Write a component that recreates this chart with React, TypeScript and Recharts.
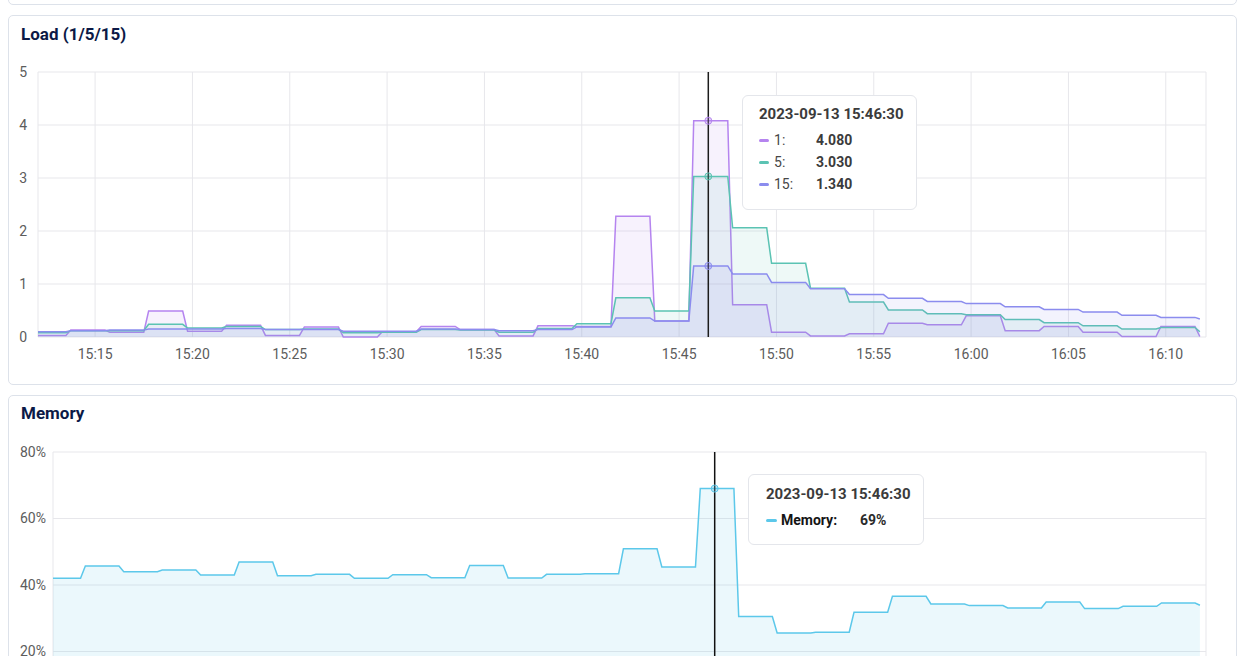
import { ComposedChart, Area, XAxis, YAxis, CartesianGrid, Tooltip } from 'recharts';

// 2-minute reporting windows; each value holds from segStart to segEnd
const day = '2023-09-13';
const segStart = [
  '15:12:04', '15:13:45', '15:15:45', '15:17:45', '15:19:45', '15:21:45', '15:23:45', '15:25:45',
  '15:27:45', '15:29:45', '15:31:45', '15:33:45', '15:35:45', '15:37:45', '15:39:45', '15:41:45',
  '15:43:45', '15:45:45', '15:47:45', '15:49:45', '15:51:45', '15:53:45', '15:55:45', '15:57:45',
  '15:59:45', '16:01:45', '16:03:45', '16:05:45', '16:07:45', '16:09:45', '16:11:45',
];
const segEnd = [
  '15:13:30', '15:15:30', '15:17:30', '15:19:30', '15:21:30', '15:23:30', '15:25:30', '15:27:30',
  '15:29:30', '15:31:30', '15:33:30', '15:35:30', '15:37:30', '15:39:30', '15:41:30', '15:43:30',
  '15:45:30', '15:47:30', '15:49:30', '15:51:30', '15:53:30', '15:55:30', '15:57:30', '15:59:30',
  '16:01:30', '16:03:30', '16:05:30', '16:07:30', '16:09:30', '16:11:30', '16:11:45',
];
const load1 = [
  0.03, 0.13, 0.09, 0.49, 0.11, 0.22, 0.03, 0.19, 0.0, 0.1, 0.2, 0.14, 0.02, 0.21, 0.2, 2.28,
  0.3, 4.08, 0.61, 0.09, 0.02, 0.06, 0.26, 0.23, 0.4, 0.12, 0.2, 0.09, 0.01, 0.2, 0.01,
];
const load5 = [
  0.08, 0.12, 0.12, 0.24, 0.17, 0.2, 0.14, 0.15, 0.08, 0.09, 0.14, 0.13, 0.09, 0.16, 0.25, 0.74,
  0.49, 3.03, 2.06, 1.39, 0.92, 0.66, 0.51, 0.44, 0.42, 0.33, 0.27, 0.21, 0.15, 0.18, 0.1,
];
const load15 = [
  0.1, 0.12, 0.13, 0.15, 0.15, 0.16, 0.14, 0.14, 0.11, 0.11, 0.15, 0.14, 0.12, 0.14, 0.19, 0.36,
  0.3, 1.34, 1.19, 1.03, 0.91, 0.8, 0.73, 0.67, 0.63, 0.57, 0.52, 0.47, 0.41, 0.37, 0.34,
];
const memory = [
  42.0, 45.7, 44.0, 44.5, 43.0, 46.9, 42.8, 43.2, 42.0, 43.1, 42.2, 45.9, 42.1, 43.2, 43.4, 50.9,
  45.4, 69, 30.5, 25.6, 25.8, 31.8, 36.6, 34.3, 33.8, 33.1, 34.9, 32.9, 33.6, 34.6, 33.9,
];
const hoverTime = '15:46:30';
const timeTicks = ['15:15', '15:20', '15:25', '15:30', '15:35', '15:40', '15:45', '15:50', '15:55', '16:00', '16:05', '16:10'];
const timeRange = ['15:12:04', '16:12:04'];
const loadTicks = [0, 1, 2, 3, 4, 5];
const memoryTicks = [20, 40, 60, 80];

const colors = { load1: '#b584ef', load5: '#5bc3b3', load15: '#8b8cee', memory: '#5cc8ea' };

const toSec = (t: string) => {
  const [h, m, s = '0'] = t.split(':');
  return +h * 3600 + +m * 60 + +s;
};
const pad = (n: number) => String(n).padStart(2, '0');
const hhmm = (sec: number) => `${pad(Math.floor(sec / 3600))}:${pad(Math.floor((sec % 3600) / 60))}`;
const fullTime = (sec: number) => `${day} ${hhmm(sec)}:${pad(sec % 60)}`;

type Row = { t: number; load1: number; load5: number; load15: number; memory: number };
const rowAt = (t: string, i: number): Row => ({
  t: toSec(t), load1: load1[i], load5: load5[i], load15: load15[i], memory: memory[i],
});

const rows: Row[] = [];
segStart.forEach((start, i) => {
  rows.push(rowAt(start, i));
  if (segEnd[i] !== start) rows.push(rowAt(segEnd[i], i));
  if (toSec(start) < toSec(hoverTime) && toSec(hoverTime) < toSec(segEnd[i])) rows.push(rowAt(hoverTime, i));
});
rows.sort((a, b) => a.t - b.t);
const hoverIndex = rows.findIndex(r => r.t === toSec(hoverTime));

const tickSecs = timeTicks.map(toSec);
const domain = timeRange.map(toSec);
const tickStyle = { fill: '#5c5c5c', fontSize: 14 };
const gridColor = '#e7e7eb';

const card = (top: number, height: number): React.CSSProperties => ({
  position: 'absolute', left: 8, top, width: 1229, height, boxSizing: 'border-box',
  border: '1px solid #dde2ea', borderRadius: 5, background: '#fff',
});
const titleStyle: React.CSSProperties = {
  position: 'absolute', left: 12, fontSize: 17, fontWeight: 700, color: '#0c1946', lineHeight: '20px',
};

function LoadTip({ active, payload, label }: any) {
  if (!active || !payload || !payload.length) return null;
  return (
    <div style={{ width: 175, height: 115, boxSizing: 'border-box', background: '#fff', border: '1px solid #e4e6eb', borderRadius: 6, padding: '8px 0 0 16px', fontSize: 14 }}>
      <div style={{ fontWeight: 700, fontSize: 15, color: '#3b3b3b', lineHeight: '20px' }}>{fullTime(label)}</div>
      <div style={{ marginTop: 5 }}>
        {payload.map((p: any) => (
          <div key={p.dataKey} style={{ display: 'flex', alignItems: 'center', height: 22 }}>
            <span style={{ width: 10, height: 3, borderRadius: 2, background: p.stroke, marginRight: 5 }} />
            <span style={{ width: 42, color: '#474747' }}>{p.name}:</span>
            <span style={{ fontWeight: 700, color: '#3b3b3b' }}>{Number(p.value).toFixed(3)}</span>
          </div>
        ))}
      </div>
    </div>
  );
}

function MemoryTip({ active, payload, label }: any) {
  if (!active || !payload || !payload.length) return null;
  const p = payload[0];
  return (
    <div style={{ width: 176, height: 71, boxSizing: 'border-box', background: '#fff', border: '1px solid #e4e6eb', borderRadius: 6, padding: '9px 0 0 17px', fontSize: 14 }}>
      <div style={{ fontWeight: 700, fontSize: 15, color: '#3b3b3b', lineHeight: '20px' }}>{fullTime(label)}</div>
      <div style={{ display: 'flex', alignItems: 'center', height: 22, marginTop: 5 }}>
        <span style={{ width: 11, height: 3, borderRadius: 2, background: p.stroke, marginRight: 4 }} />
        <span style={{ width: 79, fontWeight: 700, color: '#151515' }}>{p.name}:</span>
        <span style={{ fontWeight: 700, color: '#2b2b2b' }}>{Math.round(p.value)}%</span>
      </div>
    </div>
  );
}

const loadSeries = [
  { key: 'load1', name: '1' },
  { key: 'load5', name: '5' },
  { key: 'load15', name: '15' },
] as const;

export default function App() {
  return (
    <div style={{ position: 'fixed', left: 0, top: 0, width: 1242, height: 656, overflow: 'hidden', background: '#fff', fontFamily: 'Roboto, sans-serif' }}>
      <div style={card(-60, 65)} />
      <div style={card(15, 370)}>
        <div style={{ ...titleStyle, top: 8 }}>Load (1/5/15)</div>
      </div>
      <div style={card(395, 400)}>
        <div style={{ ...titleStyle, top: 7 }}>Memory</div>
      </div>

      <div style={{ position: 'absolute', left: 0, top: 60 }}>
        <ComposedChart width={1242} height={320} data={rows} margin={{ top: 12, right: 36, bottom: 13, left: 8 }}>
          <CartesianGrid stroke={gridColor} />
          <XAxis dataKey="t" type="number" domain={domain} ticks={tickSecs} tickFormatter={hhmm} interval={0}
            axisLine={false} tickLine={false} tickSize={0} tickMargin={12} height={30} tick={tickStyle} />
          <YAxis domain={[0, 5]} ticks={loadTicks} axisLine={false} tickLine={false} tickSize={0} tickMargin={11}
            width={30} tick={tickStyle} />
          <Tooltip content={<LoadTip />} defaultIndex={hoverIndex} active position={{ x: 742, y: 35 }}
            cursor={{ stroke: '#1c1c1c', strokeWidth: 1.5 }} isAnimationActive={false} />
          {loadSeries.map(s => (
            <Area key={s.key} type="linear" dataKey={s.key} name={s.name} stroke={colors[s.key]} strokeWidth={1.5}
              fill={colors[s.key]} fillOpacity={0.1} dot={false} isAnimationActive={false}
              activeDot={{ r: 3.5, stroke: colors[s.key], strokeWidth: 1, fill: colors[s.key], fillOpacity: 0.3 }} />
          ))}
        </ComposedChart>
      </div>

      {/* memory panel runs past the bottom of the view; its time labels sit below it */}
      <div style={{ position: 'absolute', left: 0, top: 440 }}>
        <ComposedChart width={1242} height={320} data={rows} margin={{ top: 12, right: 36, bottom: 12, left: 8 }}>
          <CartesianGrid stroke={gridColor} />
          <XAxis dataKey="t" type="number" domain={domain} ticks={tickSecs} interval={0}
            axisLine={false} tickLine={false} tick={false} height={30} />
          <YAxis domain={[0, 80]} ticks={memoryTicks} tickFormatter={(v: number) => `${v}%`} axisLine={false}
            tickLine={false} tickSize={0} tickMargin={7} width={45} tick={tickStyle} />
          <Tooltip content={<MemoryTip />} defaultIndex={hoverIndex} active position={{ x: 748, y: 34 }}
            cursor={{ stroke: '#111', strokeWidth: 1.5 }} isAnimationActive={false} />
          <Area type="linear" dataKey="memory" name="Memory" stroke={colors.memory} strokeWidth={1.5}
            fill={colors.memory} fillOpacity={0.12} dot={false} isAnimationActive={false}
            activeDot={{ r: 3.5, stroke: colors.memory, strokeWidth: 1, fill: colors.memory, fillOpacity: 0.3 }} />
        </ComposedChart>
      </div>
    </div>
  );
}
